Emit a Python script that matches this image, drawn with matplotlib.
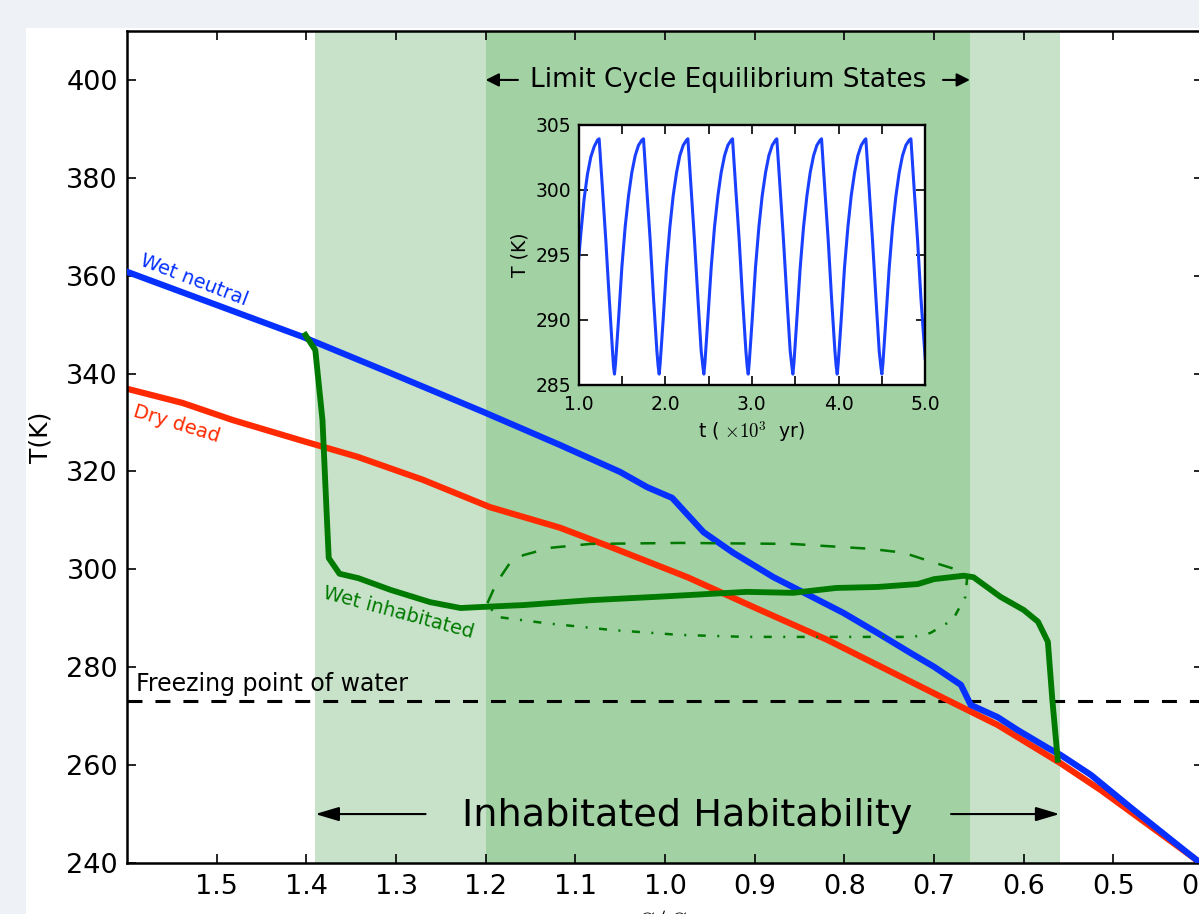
import matplotlib
matplotlib.use('Agg')
import matplotlib.pyplot as plt
from matplotlib.patches import Rectangle
from matplotlib.ticker import MultipleLocator

plt.rcParams['font.family'] = 'DejaVu Sans'
plt.rcParams['mathtext.fontset'] = 'cm'

# --- values (x = S/S0, y = T in K) ---
neutral_S = [1.600, 1.404, 1.306, 1.203, 1.117, 1.050, 1.020, 0.992, 0.957, 0.924,
             0.879, 0.834, 0.801, 0.763, 0.726, 0.700, 0.670, 0.659, 0.629, 0.607,
             0.573, 0.559, 0.525, 0.477, 0.414, 0.400]
neutral_T = [360.8, 347.5, 340.1, 332.2, 325.4, 319.9, 316.8, 314.6, 307.6, 303.4,
             298.4, 294.2, 291.1, 287.0, 282.9, 280.1, 276.4, 272.3, 269.8, 267.2,
             263.5, 262.1, 258.0, 250.8, 241.6, 239.6]

dead_S = [1.600, 1.538, 1.482, 1.407, 1.343, 1.270, 1.195, 1.117, 1.061, 0.975,
          0.894, 0.819, 0.745, 0.685, 0.629, 0.559, 0.514, 0.410, 0.400]
dead_T = [336.9, 334.0, 330.5, 326.4, 323.0, 318.3, 312.7, 308.5, 304.6, 298.4,
          291.7, 285.6, 278.8, 273.3, 268.2, 260.4, 254.9, 241.0, 239.4]

inhab_S = [1.401, 1.390, 1.382, 1.377, 1.375, 1.363, 1.342, 1.306, 1.262, 1.228,
           1.206, 1.158, 1.083, 1.008, 0.909, 0.857, 0.809, 0.763, 0.718, 0.700,
           0.667, 0.656, 0.626, 0.600, 0.584, 0.573, 0.568, 0.562]
inhab_T = [347.9, 344.8, 330.5, 310.1, 302.3, 299.1, 298.2, 295.8, 293.3, 292.1,
           292.3, 292.7, 293.7, 294.4, 295.4, 295.2, 296.2, 296.4, 297.0, 298.0,
           298.7, 298.4, 294.4, 291.7, 289.3, 285.2, 273.3, 261.1]

cycle_max_S = [1.198, 1.188, 1.173, 1.158, 1.128, 1.083, 0.983, 0.859, 0.771, 0.734,
               0.702, 0.674, 0.663]
cycle_max_T = [293.1, 297.2, 301.3, 302.9, 304.4, 305.2, 305.4, 305.2, 304.2, 303.4,
               301.5, 299.9, 298.4]
cycle_min_S = [0.663, 0.665, 0.679, 0.704, 0.723, 0.909, 0.983, 1.059, 1.133, 1.188, 1.198]
cycle_min_T = [298.4, 294.4, 289.7, 287.0, 286.2, 286.2, 286.6, 287.6, 289.0, 290.3, 293.1]

habitable_band = (0.56, 1.39)
limit_band = (0.66, 1.20)
freezing_T = 273
main_xticks = [1.5, 1.4, 1.3, 1.2, 1.1, 1.0, 0.9, 0.8, 0.7, 0.6, 0.5, 0.4]

# inset: time series (t in 10^3 yr, T in K)
inset_t = [1.000, 1.027, 1.065, 1.104, 1.142, 1.181, 1.219, 1.238,
           1.277, 1.315, 1.354, 1.392, 1.404, 1.415,
           1.427, 1.462, 1.500, 1.538, 1.577, 1.615, 1.654, 1.692, 1.731, 1.750,
           1.788, 1.827, 1.865, 1.904, 1.919, 1.931,
           1.942, 1.977, 2.015, 2.054, 2.092, 2.131, 2.169, 2.208, 2.246, 2.262,
           2.300, 2.338, 2.377, 2.415, 2.435, 2.446,
           2.458, 2.492, 2.531, 2.569, 2.608, 2.646, 2.685, 2.723, 2.762, 2.777,
           2.815, 2.854, 2.892, 2.931, 2.946, 2.958,
           2.969, 3.004, 3.042, 3.081, 3.119, 3.158, 3.196, 3.235, 3.273, 3.288,
           3.327, 3.365, 3.404, 3.442, 3.462, 3.473,
           3.485, 3.519, 3.558, 3.596, 3.635, 3.673, 3.712, 3.750, 3.788, 3.804,
           3.842, 3.881, 3.919, 3.958, 3.973, 3.985,
           3.996, 4.031, 4.069, 4.108, 4.146, 4.185, 4.223, 4.262, 4.300, 4.315,
           4.354, 4.392, 4.431, 4.469, 4.488, 4.500,
           4.512, 4.546, 4.585, 4.623, 4.662, 4.700, 4.738, 4.777, 4.815, 4.835,
           4.873, 4.912, 4.950, 5.000]
inset_T = [294.5, 296.6, 299.3, 301.2, 302.5, 303.3, 303.8, 303.9,
           300.0, 296.1, 291.7, 287.6, 286.4, 285.8,
           286.6, 290.0, 294.0, 297.1, 299.5, 301.3, 302.6, 303.4, 303.8, 303.9,
           300.0, 296.1, 291.7, 287.6, 286.4, 285.8,
           286.6, 290.0, 294.0, 297.1, 299.5, 301.3, 302.6, 303.4, 303.8, 303.9,
           300.0, 296.1, 291.7, 287.6, 286.4, 285.8,
           286.6, 290.0, 294.0, 297.1, 299.5, 301.3, 302.6, 303.4, 303.8, 303.9,
           300.0, 296.1, 291.7, 287.6, 286.4, 285.8,
           286.6, 290.0, 294.0, 297.1, 299.5, 301.3, 302.6, 303.4, 303.8, 303.9,
           300.0, 296.1, 291.7, 287.6, 286.4, 285.8,
           286.6, 290.0, 294.0, 297.1, 299.5, 301.3, 302.6, 303.4, 303.8, 303.9,
           300.0, 296.1, 291.7, 287.6, 286.4, 285.8,
           286.6, 290.0, 294.0, 297.1, 299.5, 301.3, 302.6, 303.4, 303.8, 303.9,
           300.0, 296.1, 291.7, 287.6, 286.4, 285.8,
           286.6, 290.0, 294.0, 297.1, 299.5, 301.3, 302.6, 303.4, 303.8, 303.9,
           300.0, 296.1, 291.7, 287.0]
inset_xticks = [1.0, 1.5, 2.0, 2.5, 3.0, 3.5, 4.0, 4.5, 5.0]
inset_xticklabels = ['1.0', '', '2.0', '', '3.0', '', '4.0', '', '5.0']
inset_yticks = [285, 290, 295, 300, 305]

BLUE = '#0530ff'
RED = '#ff2a00'
GREEN = '#007a00'

fig = plt.figure(figsize=(11.99, 9.14), dpi=100, facecolor='#eef1f6')
# the white page the chart sits on (cropped screenshot)
fig.patches.append(Rectangle((26 / 1199, 0), 1, 1 - 28 / 914, transform=fig.transFigure,
                             facecolor='white', edgecolor='none', zorder=-10))

ax = fig.add_axes([127 / 1199, 51 / 914, 1076 / 1199, 832 / 914])
ax.axvspan(*habitable_band, color='#c8e2c9', lw=0, zorder=0)
ax.axvspan(*limit_band, color='#a2d1a3', lw=0, zorder=0)

ax.axhline(freezing_T, color='k', lw=2.2, dashes=(4.9, 4.25), zorder=1)
ax.plot(dead_S, dead_T, color=RED, lw=4.5, zorder=2)
ax.plot(neutral_S, neutral_T, color=BLUE, lw=4.5, zorder=3)
ax.plot(cycle_max_S, cycle_max_T, color=GREEN, lw=1.8, dashes=(6.0, 6.0), zorder=3)
ax.plot(cycle_min_S, cycle_min_T, color=GREEN, lw=1.8, dashes=(3.2, 4.6, 0.8, 4.6), zorder=3)
ax.plot(inhab_S, inhab_T, color=GREEN, lw=4.2, zorder=4)

ax.set_xlim(1.6, 0.4)
ax.set_ylim(240, 410)
ax.set_xticks(main_xticks)
ax.yaxis.set_major_locator(MultipleLocator(20))
ax.tick_params(direction='in', length=6.5, width=1.2, top=True, right=True, labelsize=19.5)
ax.tick_params(axis='x', pad=8)
ax.tick_params(axis='y', pad=6.5)
for sp in ax.spines.values():
    sp.set_linewidth(1.8)
ax.set_ylabel('T(K)', fontsize=18)
ax.yaxis.set_label_coords(-0.069, 0.512)
ax.set_xlabel('$S/S_0$', fontsize=21, labelpad=6)

# curve labels
ax.text(1.587, 362.2, 'Wet neutral', color=BLUE, fontsize=14, rotation=-21,
        rotation_mode='anchor', ha='left', va='baseline')
ax.text(1.594, 331.2, 'Dry dead', color=RED, fontsize=14, rotation=-17,
        rotation_mode='anchor', ha='left', va='baseline')
ax.text(1.382, 294.2, 'Wet inhabitated', color=GREEN, fontsize=14, rotation=-15,
        rotation_mode='anchor', ha='left', va='baseline')
ax.text(1.59, 275.2, 'Freezing point of water', fontsize=17, ha='left', va='baseline')

# band annotations
ax.text(0.929, 398.6, 'Limit Cycle Equilibrium States', fontsize=19, ha='center', va='baseline')
small_head = dict(arrowstyle='-|>,head_length=0.79,head_width=0.4', mutation_scale=10,
                  lw=1.5, color='k', shrinkA=0, shrinkB=0)
ax.annotate('', xy=(limit_band[1], 400), xytext=(1.164, 400), arrowprops=small_head)
ax.annotate('', xy=(limit_band[0], 400), xytext=(0.690, 400), arrowprops=small_head)

ax.text(0.975, 247.6, 'Inhabitated Habitability', fontsize=27.5, ha='center', va='baseline')
big_head = dict(arrowstyle='-|>,head_length=1.44,head_width=0.43', mutation_scale=10,
                lw=1.5, color='k', shrinkA=0, shrinkB=0)
ax.annotate('', xy=(habitable_band[1], 250), xytext=(1.267, 250), arrowprops=big_head)
ax.annotate('', xy=(habitable_band[0], 250), xytext=(0.681, 250), arrowprops=big_head)

# inset with the limit cycle time series
ins = fig.add_axes([578.5 / 1199, 529.5 / 914, 346.7 / 1199, 260 / 914])
ins.plot(inset_t, inset_T, color='#1a40ff', lw=2.2)
ins.set_xlim(1.0, 5.0)
ins.set_ylim(285, 305)
ins.set_xticks(inset_xticks)
ins.set_xticklabels(inset_xticklabels)
ins.set_yticks(inset_yticks)
ins.tick_params(direction='in', length=6.5, width=1.2, top=True, right=True, labelsize=13.5)
ins.tick_params(axis='x', pad=7.5)
ins.tick_params(axis='y', pad=5.5)
for sp in ins.spines.values():
    sp.set_linewidth(1.7)
ins.set_ylabel('T (K)', fontsize=13.5)
ins.set_xlabel(r't ( $\times10^3$  yr)', fontsize=13.5)

fig.savefig('out.png', dpi=100)
